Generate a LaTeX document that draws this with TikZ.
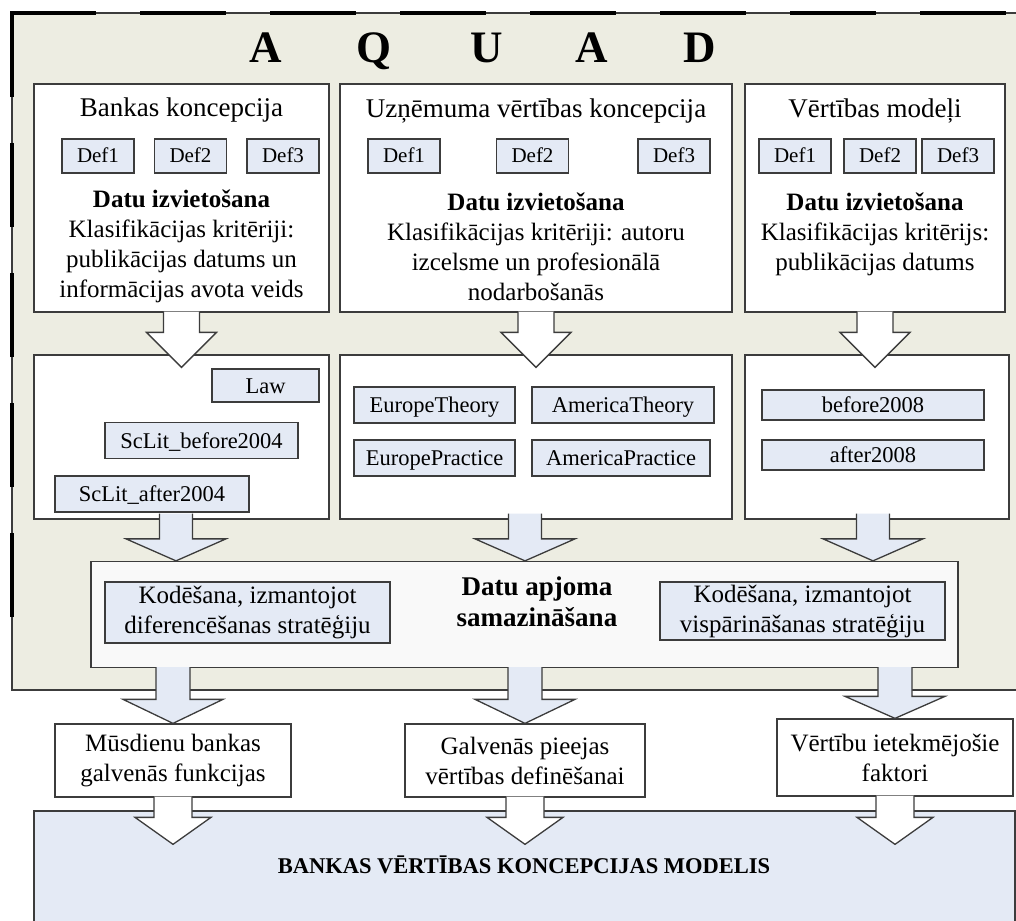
\documentclass[tikz,border=0pt]{standalone}
\usepackage{fontspec}
\setmainfont{Liberation Serif}
\usetikzlibrary{calc}
\definecolor{aquadbg}{RGB}{237,237,226}
\definecolor{lightblue}{RGB}{228,234,245}
\definecolor{reducebg}{RGB}{249,249,249}
\definecolor{edge}{RGB}{60,60,60}

\newcommand{\blockarrow}[6]{%
  \filldraw[#1] let \p1=#2, \p2=#3 in
    (\x1-#4,\y1) -- (\x1-#4,\y2+#6) -- (\x1-#5,\y2+#6) -- (\x1,\y2)
    -- (\x1+#5,\y2+#6) -- (\x1+#4,\y2+#6) -- (\x1+#4,\y1);
}

\begin{document}
\begin{tikzpicture}[x=1pt, y=-1pt,
  box/.style={draw=edge, line width=1.3pt, fill=white, inner sep=0pt},
  codetag/.style={draw=edge, line width=1.3pt, fill=lightblue, inner sep=0pt, align=center, font=\fontsize{25}{30}\selectfont},
  tag/.style={codetag, text height=15pt, text depth=0pt, font=\fontsize{22.5}{27}\selectfont},
  deftag/.style={tag, minimum width=72pt, minimum height=34pt, text height=14pt, font=\fontsize{21}{25}\selectfont},
  lowbox/.style={box, align=center, font=\fontsize{25}{30}\selectfont},
  txt/.style={align=center, anchor=base, inner sep=0pt, font=\fontsize{25}{30}\selectfont},
  head/.style={txt, font=\fontsize{27}{32}\selectfont},
  bold/.style={txt, font=\fontsize{25}{30}\selectfont\bfseries},
  whitearrow/.style={draw=edge, line width=1.3pt, fill=white, line join=miter},
  bluearrow/.style={whitearrow, fill=lightblue}]
  \useasboundingbox (0,0) rectangle (1016,920);

  \fill[aquadbg] (12,13) rectangle (1017,690);
  \draw[edge, line width=1.2pt] (1017,13) -- (12,13) -- (12,690) -- (1017,690);
  \draw[line width=4.5pt, dash pattern=on 86pt off 44pt] (10,13) -- (1017,13);
  \draw[line width=4.5pt, dash pattern=on 84pt off 46pt] (12,13) -- (12,660);

  \foreach \letter/\xpos in {A/266, Q/374, U/487, A/592, D/700}
    \node[font=\fontsize{45}{50}\selectfont\bfseries, anchor=base] (aquad\xpos) at (\xpos,63) {\letter};

  \node[box, minimum width=295pt, minimum height=228pt] (top1) at (181.5,198) {};
  \node[box, minimum width=392pt, minimum height=228pt] (top2) at (536,198) {};
  \node[box, minimum width=260pt, minimum height=228pt] (top3) at (875,198) {};

  \node[head] (title1) at (181.5,117) {Bankas koncepcija};
  \node[head] (title2) at (536,118) {Uzņēmuma vērtības koncepcija};
  \node[head] (title3) at (875,118) {Vērtības modeļi};

  \foreach \n/\xpos in {1/98, 2/190.5, 3/283}
    \node[deftag] (bdef\n) at (\xpos,156) {Def\n};
  \foreach \n/\xpos in {1/404, 2/532.5, 3/674}
    \node[deftag] (udef\n) at (\xpos,156) {Def\n};
  \foreach \n/\xpos in {1/795, 2/880, 3/958}
    \node[deftag] (vdef\n) at (\xpos,156) {Def\n};

  \node[bold] (place1) at (181.5,207) {Datu izvietošana};
  \node[txt] (crit1) at (181.5,297) {Klasifikācijas kritēriji:\\publikācijas datums un\\informācijas avota veids};
  \node[bold] (place2) at (536,210) {Datu izvietošana};
  \node[txt] (crit2) at (536,300) {Klasifikācijas kritēriji: autoru\\izcelsme un profesionālā\\nodarbošanās};
  \node[bold] (place3) at (875,210) {Datu izvietošana};
  \node[txt] (crit3) at (875,270) {Klasifikācijas kritērijs:\\publikācijas datums};

  \node[box, minimum width=295pt, minimum height=164pt] (mid1) at (181.5,437) {};
  \node[box, minimum width=392pt, minimum height=164pt] (mid2) at (536,437) {};
  \node[box, minimum width=264pt, minimum height=164pt] (mid3) at (877,437) {};

  \node[tag, minimum width=107pt, minimum height=33pt] (law) at (265.5,385.5) {Law};
  \node[tag, minimum width=193pt, minimum height=36pt] (before2004) at (201.5,440.5) {ScLit\_before2004};
  \node[tag, minimum width=194pt, minimum height=36pt] (after2004) at (152,494) {ScLit\_after2004};
  \node[tag, minimum width=161pt, minimum height=36pt] (eutheory) at (434.5,405) {EuropeTheory};
  \node[tag, minimum width=161pt, minimum height=36pt] (eupractice) at (434.5,458) {EuropePractice};
  \node[tag, minimum width=182pt, minimum height=36pt] (amtheory) at (623,405) {AmericaTheory};
  \node[tag, minimum width=178pt, minimum height=36pt] (ampractice) at (621,458) {AmericaPractice};
  \node[tag, minimum width=222pt, minimum height=30pt] (before2008) at (873,405) {before2008};
  \node[tag, minimum width=222pt, minimum height=30pt] (after2008) at (873,455) {after2008};

  \node[box, fill=reducebg, minimum width=867pt, minimum height=106pt] (reduce) at (524.5,614.5) {};
  \node[codetag, minimum width=285pt, minimum height=61pt] (differ) at (247.5,612.5) {Kodēšana, izmantojot\\diferencēšanas stratēģiju};
  \node[codetag, minimum width=285pt, minimum height=58pt] (general) at (802.5,611) {Kodēšana, izmantojot\\vispārināšanas stratēģiju};
  \node[txt, font=\fontsize{27}{31}\selectfont\bfseries] (volume) at (537,626) {Datu apjoma\\samazināšana};

  \node[lowbox, minimum width=236pt, minimum height=73pt] (func) at (173,760.5) {Mūsdienu bankas\\galvenās funkcijas};
  \node[lowbox, minimum width=240pt, minimum height=73pt] (approach) at (525,760.5) {Galvenās pieejas\\vērtības definēšanai};
  \node[lowbox, minimum width=236pt, minimum height=77pt] (factors) at (895,757.5) {Vērtību ietekmējošie\\faktori};

  \node[draw=edge, line width=1.3pt, fill=lightblue, minimum width=981pt, minimum height=112pt] (bank) at (524.5,867) {};
  \node[font=\fontsize{22.5}{27}\selectfont\bfseries, anchor=base] (banktitle) at (524,873) {BANKAS VĒRTĪBAS KONCEPCIJAS MODELIS};

  \foreach \a/\b in {top1/mid1, top2/mid2, top3/mid3}
    \blockarrow{whitearrow}{($(\a.south)+(0,-1)$)}{($(\b.north)+(0,13)$)}{18pt}{35pt}{35pt};
  \foreach \a/\dx in {mid1/-5.5, mid2/-11, mid3/-4}
    \blockarrow{bluearrow}{($(\a.south)+(\dx,-6)$)}{(reduce.north)}{16.5pt}{50pt}{22pt};
  \foreach \b/\len in {func/24, approach/24, factors/22}
    \blockarrow{bluearrow}{($(reduce.south -| \b.north)+(0,-1)$)}{(\b.north)}{17pt}{50pt}{\len pt};
  \foreach \a in {func, approach, factors}
    \blockarrow{whitearrow}{($(\a.south)+(0,-1)$)}{($(bank.north)+(0,34)$)}{19pt}{38pt}{27pt};
\end{tikzpicture}
\end{document}
